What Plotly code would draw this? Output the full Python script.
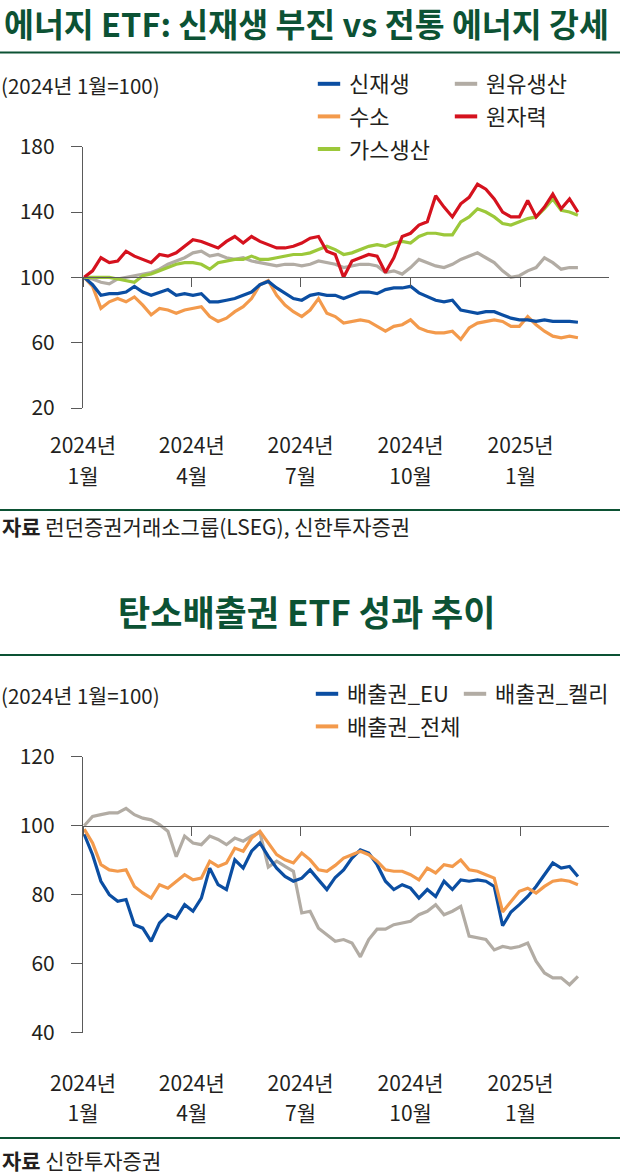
import pandas as pd
import plotly.graph_objects as go

W, H = 620, 1174
FONT = "Noto Sans CJK KR"
GREEN = "#0c5234"
TEXT = "#231f20"
AXIS = "#5a5a5a"

# weekly samples
dates = pd.date_range("2024-01-02", periods=60, freq="7D")

tick_dates = ["2024-01-01", "2024-04-01", "2024-07-01", "2024-10-01", "2025-01-01"]
tick_years = ["2024년", "2024년", "2024년", "2024년", "2025년"]
tick_months = ["1월", "4월", "7월", "10월", "1월"]

# chart 1: energy ETFs (2024-01 = 100)
renew = [100, 95.5, 89, 90, 90, 91, 94.5, 91, 89, 91, 92.5, 89, 90, 89, 90,
         85, 85, 86, 87, 89, 91, 95.5, 97.5, 93.5, 90, 87, 86, 89, 90, 89,
         89, 87, 89, 91, 91, 90, 92.5, 93.5, 93.5, 94.5, 90.5, 88, 86, 85, 86,
         80, 79, 78, 79, 79, 77, 75, 74, 74, 73, 74, 73, 73, 73, 72.5]
hydrogen = [100, 94.5, 81, 85, 87, 85, 88, 83, 77, 81, 80, 78, 80, 81, 82,
            76, 73, 75, 79, 82, 87, 95.5, 98, 89, 83, 79, 76, 80, 87, 78,
            76, 72, 73, 74, 73, 70, 67, 70, 71, 74, 69, 67, 66, 66, 67,
            62, 69, 72, 73, 74, 73, 70, 70, 76, 71, 67, 64, 63, 64, 63]
gas = [100, 100, 100, 100, 99, 98, 97, 101, 102, 104, 106, 108, 109, 109, 108,
       105, 109, 110, 111, 111, 113, 111, 111, 112, 113, 114, 114, 115, 117, 119,
       117, 114, 115, 117, 119, 120, 119, 121, 122, 121, 125, 127, 127, 126, 126,
       134, 137, 142, 140, 137, 133, 132, 134, 136, 137, 142, 148, 141, 140, 138]
oil = [100, 99, 97, 96, 99, 100, 101, 102, 103, 105, 108, 110, 112, 115, 116,
       113, 114, 112, 111, 112, 110, 109, 108, 107, 108, 108, 107, 108, 110, 109,
       108, 106, 107, 108, 108, 107, 103, 104, 102, 106, 111, 109, 107, 106, 108,
       111, 113, 115, 112, 109, 104, 100, 101, 104, 106, 112, 109, 105, 106, 106]
nuclear = [100, 104, 112, 109, 110, 116, 113, 111, 109, 114, 113, 115, 119, 123, 122,
           120, 118, 122, 125, 121, 125, 122, 120, 118, 118, 119, 121, 124, 125, 116,
           114, 100, 110, 112, 114, 113, 103, 112, 125, 127, 132, 134, 150, 143, 137,
           145, 149, 157, 154, 148, 140, 137, 137, 147, 137, 143, 151, 142, 148, 140]

# chart 2: carbon allowance ETFs (2024-01 = 100)
eu = [97.5, 91.6, 83.9, 80, 78.1, 78.6, 71.3, 70.3, 66.5, 71.8, 74.2, 73.2, 77.1, 75.2, 79,
      87.7, 82.9, 81.5, 90.1, 87.7, 92.6, 95, 91.1, 87.7, 85.3, 83.9, 84.8, 87.2, 84.3, 81.5,
      85, 87.2, 90.6, 93, 92.1, 88.7, 83.9, 81.5, 82.9, 81.9, 79, 81.5, 79.5, 83.9, 81.5,
      84.3, 83.9, 84.3, 83.9, 82.4, 71, 75, 77.1, 79.5, 82.4, 85.8, 89.2, 87.7, 88.2, 85.3]
total = [99, 95, 88.7, 87.2, 86.8, 87.2, 82.4, 80.5, 79, 82.9, 81.9, 83.9, 85.8, 84.3, 84.8,
         89.7, 88.2, 89.2, 93.5, 92.6, 96.4, 98.4, 95, 91.6, 90.1, 89.2, 92.1, 90.1, 87.2, 86.8,
         88.5, 90.6, 91.6, 92.6, 91.6, 89.7, 87.2, 86.8, 86.8, 85.8, 84.3, 87.7, 86.3, 88.7, 88.2,
         90.1, 87.2, 86.8, 85.8, 84.8, 75, 78, 81, 81.9, 80.5, 82.4, 83.9, 84.3, 83.9, 82.9]
kelly = [100, 102.7, 103.2, 103.7, 103.7, 105, 103.2, 102.2, 101.7, 100.3, 98.4, 91, 97, 95, 94.5,
         97, 96, 94.5, 96.4, 95.5, 97, 98, 88, 89.7, 88.2, 86.8, 74.7, 75.2, 70.3, 68.4,
         66.5, 67, 66, 62, 67, 70, 70, 71.3, 71.8, 72.3, 74.2, 75.2, 77.1, 74.2, 75.2,
         76.6, 68, 67.4, 67, 64, 65, 64.5, 65, 66, 60.7, 57.3, 55.9, 55.9, 53.9, 56.3]

BLUE, ORANGE, GRAY, RED, LIME = "#0b4ea2", "#f39a4c", "#b2aca4", "#d5121e", "#9cc83a"

# (name, values, colour, legend, rank in legend) - list order is drawing order
chart1 = [
    ("원유생산", oil, GRAY, "legend2", 1),
    ("수소", hydrogen, ORANGE, "legend", 2),
    ("신재생", renew, BLUE, "legend", 1),
    ("가스생산", gas, LIME, "legend", 3),
    ("원자력", nuclear, RED, "legend2", 2),
]
chart2 = [
    ("배출권_켈리", kelly, GRAY, "legend4", 1),
    ("배출권_EU", eu, BLUE, "legend3", 1),
    ("배출권_전체", total, ORANGE, "legend3", 2),
]


def py(px):
    """pixel row -> paper fraction"""
    return 1 - px / H


def add_chart(fig, series, xa, ya, xtick, xmonth):
    for name, vals, color, leg, rank in series:
        fig.add_trace(go.Scatter(x=dates, y=vals, mode="lines", name=name,
                                 line=dict(color=color, width=3.2),
                                 showlegend=False, hoverinfo="skip",
                                 xaxis=xa, yaxis=ya))
        # short legend key
        fig.add_trace(go.Scatter(x=[None], y=[None], mode="markers", name=name,
                                 marker=dict(symbol="line-ew-open", size=16, color=color,
                                             line=dict(color=color, width=4)),
                                 legend=leg, legendrank=rank, legendgroup=name,
                                 xaxis=xtick, yaxis=ya))
    # keeps the month-label axis alive
    fig.add_trace(go.Scatter(x=[None], y=[None], mode="markers", showlegend=False,
                             xaxis=xmonth, yaxis=ya))


fig = go.Figure()
add_chart(fig, chart1, "x", "y", "x3", "x5")
add_chart(fig, chart2, "x2", "y2", "x4", "x6")

xdom = [83 / W, 609 / W]
xrange = ["2024-01-01", "2025-03-16"]
dom1 = [py(408), py(146.7)]
dom2 = [py(1032.7), py(756.7)]
rng1 = [20, 180]
rng2 = [40, 120]


def base_pos(dom, rng):
    return dom[0] + (100 - rng[0]) / (rng[1] - rng[0]) * (dom[1] - dom[0])


tickfont = dict(family=FONT, size=21, color=TEXT)
year_x = dict(type="date", domain=xdom, range=xrange, tickvals=tick_dates,
              ticktext=tick_years, ticks="", showline=False, showgrid=False,
              zeroline=False, tickfont=tickfont)
month_x = dict(type="date", range=xrange, tickvals=tick_dates, ticktext=tick_months,
               ticks="", showline=False, showgrid=False, zeroline=False,
               tickfont=tickfont, anchor="free", side="bottom")
base_x = dict(type="date", range=xrange, showline=True, linecolor=AXIS, linewidth=1.2,
              ticks="outside", ticklen=9, tickcolor=AXIS, tickwidth=1.2,
              tickvals=tick_dates, showticklabels=False, showgrid=False,
              zeroline=False, anchor="free", side="bottom")
val_y = dict(showline=True, linecolor=AXIS, linewidth=1.2, ticks="outside",
             ticklen=11, tickcolor=AXIS, tickwidth=1.2, showgrid=False,
             zeroline=False, tickfont=tickfont, ticklabelstandoff=12)

legend_common = dict(xanchor="left", yanchor="top", orientation="v",
                     bgcolor="rgba(0,0,0,0)", tracegroupgap=1,
                     font=dict(family=FONT, size=22, color=TEXT))

fig.update_layout(
    width=W, height=H,
    margin=dict(l=0, r=0, t=0, b=0, autoexpand=False),
    paper_bgcolor="white", plot_bgcolor="white",
    font=dict(family=FONT, color=TEXT),
    showlegend=True,
    xaxis=dict(year_x, anchor="y", ticklabelstandoff=23),
    xaxis5=dict(month_x, overlaying="x", position=dom1[0], ticklabelstandoff=54),
    yaxis=dict(val_y, domain=dom1, range=rng1, tickvals=[20, 60, 100, 140, 180], anchor="x"),
    xaxis3=dict(base_x, overlaying="x", position=base_pos(dom1, rng1)),
    xaxis2=dict(year_x, anchor="y2", ticklabelstandoff=36),
    xaxis6=dict(month_x, overlaying="x2", position=dom2[0], ticklabelstandoff=66),
    yaxis2=dict(val_y, domain=dom2, range=rng2, tickvals=[40, 60, 80, 100, 120], anchor="x2"),
    xaxis4=dict(base_x, overlaying="x2", position=base_pos(dom2, rng2)),
    legend=dict(legend_common, x=309 / W, y=py(63)),
    legend2=dict(legend_common, x=446 / W, y=py(63)),
    legend3=dict(legend_common, x=307 / W, y=py(673)),
    legend4=dict(legend_common, x=455 / W, y=py(673)),
)

# headers, notes and rules
notes = [
    ("에너지 ETF: 신재생 부진 vs 전통 에너지 강세", 3, 22.5, 32.5, GREEN, "left", True),
    ("(2024년 1월=100)", 0, 85, 20.5, TEXT, "left", False),
    ("<b>자료</b> 런던증권거래소그룹(LSEG), 신한투자증권", 1, 526, 21, TEXT, "left", False),
    ("탄소배출권 ETF 성과 추이", 307, 610, 35, GREEN, "center", True),
    ("(2024년 1월=100)", 0, 695, 20.5, TEXT, "left", False),
    ("<b>자료</b> 신한투자증권", 1, 1160, 21, TEXT, "left", False),
]
for text, x, y, size, color, anchor, bold in notes:
    fig.add_annotation(text=text, xref="paper", yref="paper", x=x / W, y=py(y),
                       xanchor=anchor, yanchor="middle", showarrow=False, borderpad=0,
                       font=dict(family=FONT, size=size, color=color,
                                 weight="bold" if bold else "normal"))

for y in [52.5, 510, 655, 1138]:
    fig.add_shape(type="line", xref="paper", yref="paper", x0=0, x1=1,
                  y0=py(y), y1=py(y), line=dict(color=GREEN, width=2))

# page body margin would shift the 620x1174 figure
fig.write_html("out.html", config={"displayModeBar": False},
               post_script="document.body.style.margin='0';")
